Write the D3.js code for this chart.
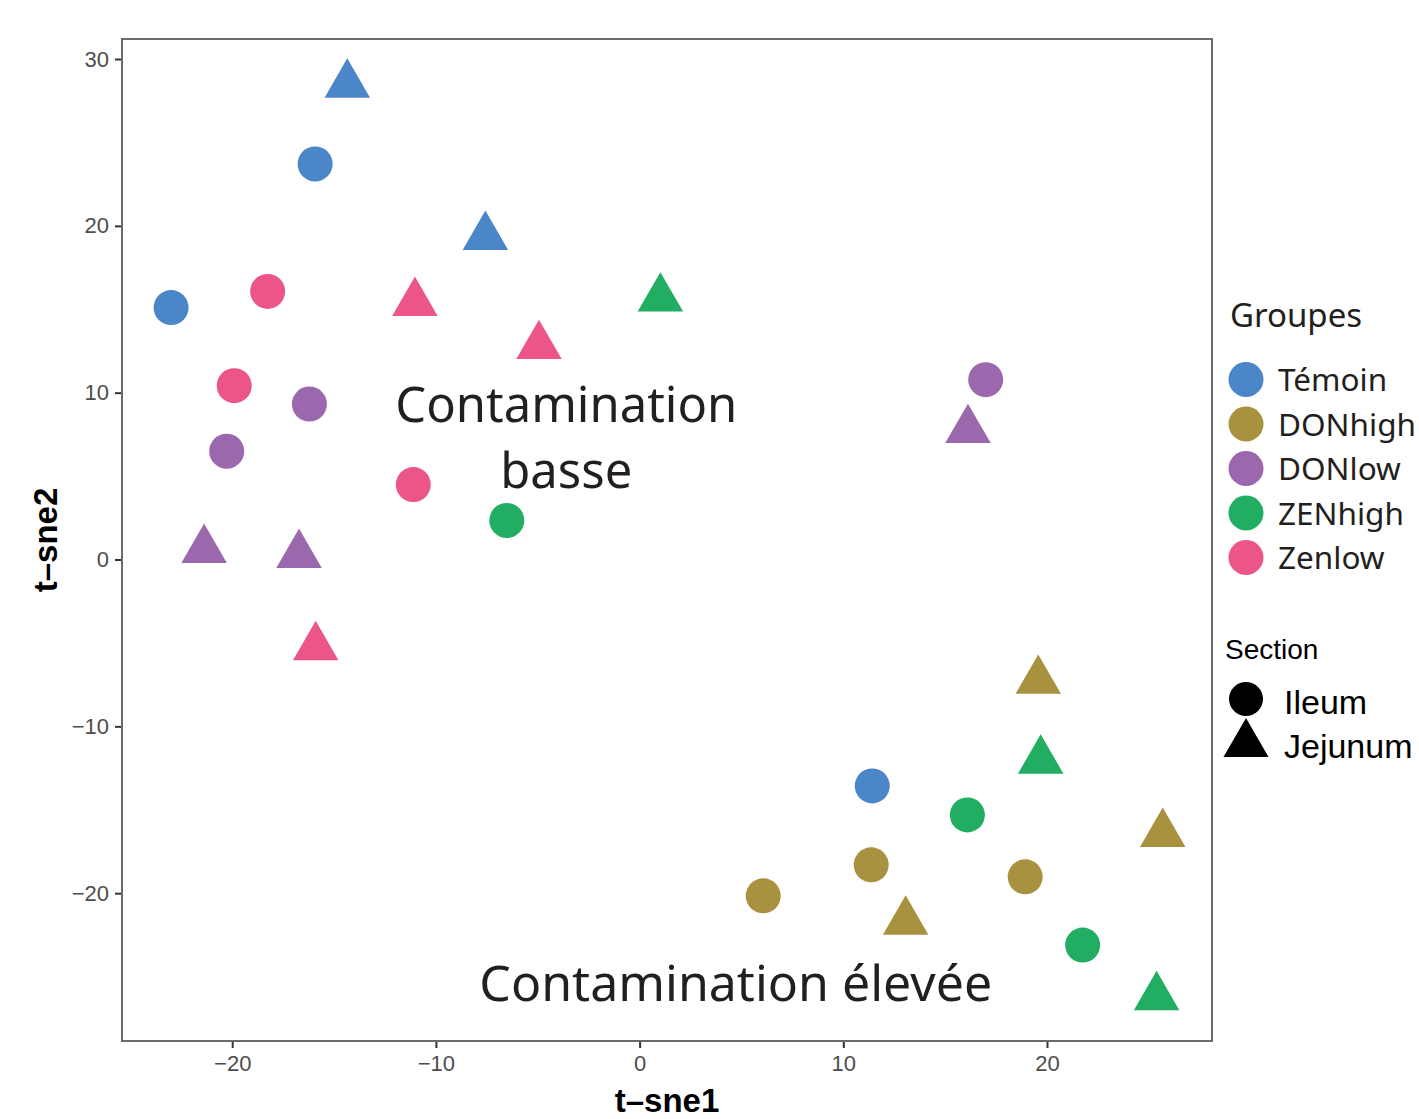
<!DOCTYPE html>
<html>
<head>
<meta charset="utf-8">
<script src="https://cdn.jsdelivr.net/npm/d3@7"></script>
<style>
  body { margin: 0; background: #fff; }
  svg { display: block; }
</style>
</head>
<body>
<svg id="chart" width="1419" height="1119"></svg>
<script>
// ---------- data ----------
const groups = ["Témoin", "DONhigh", "DONlow", "ZENhigh", "Zenlow"];
const groupColors = ["#4A86C8", "#A8913F", "#9B67AD", "#21AE63", "#EC5587"];
const sections = ["Ileum", "Jejunum"];

const pointGroup = [
  "Témoin","Témoin","Témoin","Témoin","Témoin",
  "DONhigh","DONhigh","DONhigh","DONhigh","DONhigh","DONhigh",
  "DONlow","DONlow","DONlow","DONlow","DONlow","DONlow",
  "ZENhigh","ZENhigh","ZENhigh","ZENhigh","ZENhigh","ZENhigh",
  "Zenlow","Zenlow","Zenlow","Zenlow","Zenlow","Zenlow"
];
const pointSection = [
  "Ileum","Ileum","Jejunum","Jejunum","Ileum",
  "Ileum","Ileum","Ileum","Jejunum","Jejunum","Jejunum",
  "Ileum","Jejunum","Ileum","Ileum","Jejunum","Jejunum",
  "Jejunum","Ileum","Jejunum","Ileum","Ileum","Jejunum",
  "Ileum","Ileum","Jejunum","Jejunum","Ileum","Jejunum"
];
const tsne1 = [
  -15.93, -23.0, -14.35, -7.57, 11.42,
  6.07, 11.37, 18.93, 19.57, 25.68, 13.06,
  16.99, 16.12, -16.21, -20.27, -21.38, -16.72,
  1.02, -6.52, 19.69, 16.09, 21.75, 25.38,
  -18.26, -19.9, -11.03, -4.94, -11.11, -15.9
];
const tsne2 = [
  23.71, 15.1, 28.47, 19.34, -13.57,
  -20.16, -18.3, -19.02, -7.26, -16.44, -21.7,
  10.78, 7.77, 9.32, 6.49, 0.58, 0.28,
  15.65, 2.34, -12.05, -15.31, -23.11, -26.23,
  16.07, 10.42, 15.39, 12.8, 4.49, -5.25
];
const xTicks = [-20, -10, 0, 10, 20];
const yTicks = [-20, -10, 0, 10, 20, 30];
const annotations = [
  { lines: ["Contamination", "basse"], x: -3.6, y: 8.26, width: 342 },
  { lines: ["Contamination élevée"], x: 4.72, y: -26.45, width: 513 }
];

// ---------- layout ----------
const panel = { left: 122, right: 1212, top: 39, bottom: 1041 };
const svg = d3.select("#chart");

const x = d3.scaleLinear().domain([-25.41, 28.1]).range([panel.left, panel.right]);
const y = d3.scaleLinear().domain([-28.86, 31.2]).range([panel.bottom, panel.top]);
const color = d3.scaleOrdinal().domain(groups).range(groupColors);
const shape = d3.scaleOrdinal().domain(sections).range([d3.symbolCircle, d3.symbolTriangle]);
const size = d3.scaleOrdinal().domain(sections).range([Math.PI * 17.5 * 17.5, 896]);

const tickFont = "'Liberation Sans', Arial, Helvetica, sans-serif";
const humanFont = "'Noto Sans', 'Open Sans', sans-serif";

// panel background
svg.append("rect")
  .attr("x", panel.left).attr("y", panel.top)
  .attr("width", panel.right - panel.left).attr("height", panel.bottom - panel.top)
  .attr("fill", "#fff");

// axes
const xAxis = svg.append("g")
  .attr("transform", `translate(0,${panel.bottom})`)
  .call(d3.axisBottom(x).tickValues(xTicks).tickSize(7).tickPadding(7).tickSizeOuter(0));
const yAxis = svg.append("g")
  .attr("transform", `translate(${panel.left},0)`)
  .call(d3.axisLeft(y).tickValues(yTicks).tickSize(7).tickPadding(6).tickSizeOuter(0));
[xAxis, yAxis].forEach(g => {
  g.select(".domain").remove();
  g.selectAll(".tick line").attr("stroke", "#333").attr("stroke-width", 2);
  g.selectAll(".tick text").attr("fill", "#4D4D4D")
    .attr("font-family", tickFont).attr("font-size", 22);
});

// points
svg.append("g").selectAll("path")
  .data(tsne1.map((v, i) => ({ x: v, y: tsne2[i], g: pointGroup[i], s: pointSection[i] })))
  .join("path")
  .attr("transform", d => `translate(${x(d.x)},${y(d.y)})`)
  .attr("d", d => d3.symbol().type(shape(d.s)).size(size(d.s))())
  .attr("fill", d => color(d.g));

// panel border
svg.append("rect")
  .attr("x", panel.left).attr("y", panel.top)
  .attr("width", panel.right - panel.left).attr("height", panel.bottom - panel.top)
  .attr("fill", "none").attr("stroke", "#6b6b6b").attr("stroke-width", 2);

// annotations
annotations.forEach(a => {
  const t = svg.append("text")
    .attr("x", x(a.x)).attr("y", y(a.y))
    .attr("text-anchor", "middle")
    .attr("font-family", humanFont).attr("font-size", 47)
    .attr("fill", "#231F20");
  a.lines.forEach((l, i) => {
    t.append("tspan").attr("x", x(a.x)).attr("dy", i === 0 ? 0 : 66).text(l);
  });
  const w = d3.max(t.selectAll("tspan").nodes(), n => n.getComputedTextLength());
  t.attr("font-size", 47 * a.width / w);
});

// axis titles
svg.append("text")
  .attr("x", (panel.left + panel.right) / 2).attr("y", 1112)
  .attr("text-anchor", "middle")
  .attr("font-family", tickFont).attr("font-weight", "bold").attr("font-size", 33)
  .attr("fill", "#000").text("t–sne1");
svg.append("text")
  .attr("transform", `translate(57,${(panel.top + panel.bottom) / 2}) rotate(-90)`)
  .attr("text-anchor", "middle")
  .attr("font-family", tickFont).attr("font-weight", "bold").attr("font-size", 33)
  .attr("fill", "#000").text("t–sne2");

// legend: Groupes
const lg = svg.append("g");
lg.append("text").attr("x", 1230).attr("y", 327)
  .attr("font-family", humanFont).attr("font-size", 33).attr("fill", "#231F20")
  .text("Groupes");
groups.forEach((g, i) => {
  const cy = 379.5 + i * 44.5;
  lg.append("path")
    .attr("transform", `translate(1246,${cy})`)
    .attr("d", d3.symbol().type(d3.symbolCircle).size(Math.PI * 17.5 * 17.5)())
    .attr("fill", color(g));
  lg.append("text").attr("x", 1278).attr("y", cy + 11.5)
    .attr("font-family", humanFont).attr("font-size", 31.5).attr("fill", "#231F20")
    .text(g);
});

// legend: Section
lg.append("text").attr("x", 1225).attr("y", 659)
  .attr("font-family", tickFont).attr("font-size", 28).attr("fill", "#000")
  .text("Section");
sections.forEach((s, i) => {
  const cy = i === 0 ? 699 : 744;
  lg.append("path")
    .attr("transform", `translate(1246,${cy})`)
    .attr("d", d3.symbol().type(shape(s)).size(i === 0 ? Math.PI * 17 * 17 : 880)())
    .attr("fill", "#000");
  lg.append("text").attr("x", 1284).attr("y", i === 0 ? 714 : 758)
    .attr("font-family", tickFont).attr("font-size", 34).attr("fill", "#000")
    .text(s);
});
</script>
</body>
</html>
